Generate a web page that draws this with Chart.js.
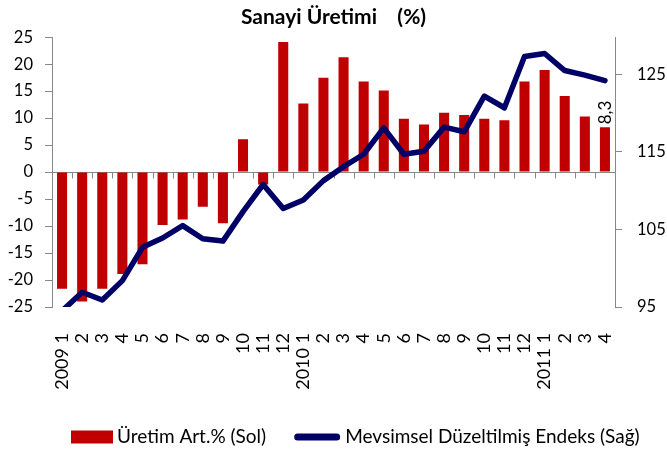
<!DOCTYPE html>
<html><head><meta charset="utf-8">
<script src="https://cdn.jsdelivr.net/npm/chart.js@4.4.1/dist/chart.umd.min.js"></script>
<style>html,body{margin:0;padding:0;background:#fff}#wrap{width:667px;height:456px;position:relative}</style>
</head><body><div id="wrap"><canvas id="c"></canvas></div>
<script>
const categories = ["2009 1","2","3","4","5","6","7","8","9","10","11","12",
  "2010 1","2","3","4","5","6","7","8","9","10","11","12",
  "2011 1","2","3","4"];
const productionGrowth = [-21.6,-24.0,-21.6,-18.9,-17.1,-9.8,-8.8,-6.4,-9.5,6.1,-2.3,24.1,
  12.7,17.5,21.3,16.8,15.1,9.9,8.8,11.0,10.6,9.9,9.6,16.8,
  18.9,14.1,10.3,8.3];
const seasonalIndex = [94.5,96.9,95.9,98.4,102.7,103.9,105.5,103.8,103.5,107.3,110.8,107.7,
  108.8,111.3,113.1,114.7,118.1,114.7,115.1,118.2,117.6,122.2,120.7,127.3,
  127.7,125.5,124.9,124.2];
const rightTickValues = [95,105,115,125];
const seriesNames = ["Üretim Art.% (Sol)","Mevsimsel Düzeltilmiş Endeks (Sağ)"];
const titleText = "Sanayi Üretimi    (%)";

const FONT = "Lato";
const GRAY = "#888888";
const BAR_COLOR = '#C00000';
const LINE_COLOR = '#000066';

const zeroAxisPlugin = {
  id: 'zeroAxis',
  beforeDatasetsDraw(chart) {
    const {ctx, chartArea, scales} = chart;
    const x = scales.x, y = scales.y;
    const y0 = Math.round(y.getPixelForValue(0)) + 0.5;
    ctx.save();
    ctx.strokeStyle = GRAY;
    ctx.lineWidth = 1;
    ctx.beginPath();
    ctx.moveTo(chartArea.left, y0);
    ctx.lineTo(chartArea.right, y0);
    const n = categories.length;
    for (let i = 0; i <= n; i++) {
      let px;
      if (i === 0) px = chartArea.left;
      else if (i === n) px = chartArea.right;
      else px = (x.getPixelForValue(i - 1) + x.getPixelForValue(i)) / 2;
      px = Math.round(px) + 0.5;
      ctx.moveTo(px, y0);
      ctx.lineTo(px, y0 + 6);
    }
    ctx.stroke();
    ctx.restore();
  }
};

const lastLabelPlugin = {
  id: 'lastLabel',
  afterDatasetsDraw(chart) {
    const meta = chart.getDatasetMeta(0);
    const idx = productionGrowth.length - 1;
    const el = meta.data[idx];
    const txt = String(productionGrowth[idx]).replace('.', ',');
    const ctx = chart.ctx;
    ctx.save();
    ctx.translate(el.x + 1, el.y - 3);
    ctx.rotate(-Math.PI / 2);
    ctx.font = "17px " + FONT;
    ctx.fillStyle = "#000";
    ctx.textAlign = "left";
    ctx.textBaseline = "middle";
    ctx.fillText(txt, 0, 0);
    ctx.restore();
  }
};

const customLegendPlugin = {
  id: 'customLegend',
  afterDraw(chart) {
    const {ctx, chartArea} = chart;
    const cy = chartArea.bottom + 130;
    let x = chartArea.left + 19;
    ctx.save();
    ctx.font = "19px " + FONT;
    ctx.textBaseline = "middle";
    ctx.textAlign = "left";
    ctx.fillStyle = BAR_COLOR;
    ctx.fillRect(x, cy - 6.5, 42, 13);
    x += 46;
    ctx.fillStyle = "#000";
    ctx.fillText(seriesNames[0], x, cy);
    x += ctx.measureText(seriesNames[0]).width + 28;
    ctx.strokeStyle = LINE_COLOR;
    ctx.lineWidth = 7;
    ctx.lineCap = 'round';
    ctx.beginPath();
    ctx.moveTo(x + 3.5, cy);
    ctx.lineTo(x + 42.5, cy);
    ctx.stroke();
    x += 51;
    ctx.fillStyle = "#000";
    ctx.fillText(seriesNames[1], x, cy);
    ctx.restore();
  }
};

new Chart(document.getElementById('c'), {
  data: {
    labels: categories,
    datasets: [
      {
        type: 'bar',
        label: seriesNames[0],
        data: productionGrowth,
        backgroundColor: BAR_COLOR,
        borderWidth: 0,
        barPercentage: 0.5,
        categoryPercentage: 1.0,
        yAxisID: 'y',
        order: 2
      },
      {
        type: 'line',
        label: seriesNames[1],
        data: seasonalIndex,
        borderColor: LINE_COLOR,
        backgroundColor: LINE_COLOR,
        borderWidth: 5.5,
        pointRadius: 0,
        tension: 0,
        borderJoinStyle: 'round',
        borderCapStyle: 'round',
        yAxisID: 'y1',
        order: 1
      }
    ]
  },
  options: {
    responsive: true,
    maintainAspectRatio: false,
    animation: false,
    devicePixelRatio: 1,
    layout: { padding: { top: 0, left: 0, right: 0, bottom: 0 } },
    plugins: {
      title: {
        display: true,
        text: titleText,
        color: '#000',
        font: { family: FONT, size: 21, weight: 'bold' },
        padding: { top: 5, bottom: 7 }
      },
      legend: { display: false },
      tooltip: { enabled: false }
    },
    scales: {
      x: {
        type: 'category',
        grid: { display: false, drawTicks: false },
        border: { display: false },
        afterFit(scale) { scale.height = 149; },
        ticks: {
          color: '#000',
          font: { family: FONT, size: 18 },
          minRotation: 90,
          maxRotation: 90,
          autoSkip: false,
          padding: 26
        }
      },
      y: {
        position: 'left',
        min: -25,
        max: 25,
        afterFit(scale) { scale.width = 52; },
        ticks: { stepSize: 5, color: '#000', font: { family: FONT, size: 16.5 }, padding: 12 },
        grid: { drawOnChartArea: false, drawTicks: true, tickLength: 7, color: GRAY },
        border: { display: true, color: GRAY }
      },
      y1: {
        position: 'right',
        min: 95,
        max: 129.8,
        afterFit(scale) { scale.width = 52; },
        afterBuildTicks(scale) { scale.ticks = rightTickValues.map(v => ({ value: v })); },
        ticks: { color: '#000', font: { family: FONT, size: 16.5 }, padding: 15 },
        grid: { drawOnChartArea: false, drawTicks: true, tickLength: 7, color: GRAY },
        border: { display: true, color: GRAY }
      }
    }
  },
  plugins: [zeroAxisPlugin, lastLabelPlugin, customLegendPlugin]
});
</script>
</body></html>
